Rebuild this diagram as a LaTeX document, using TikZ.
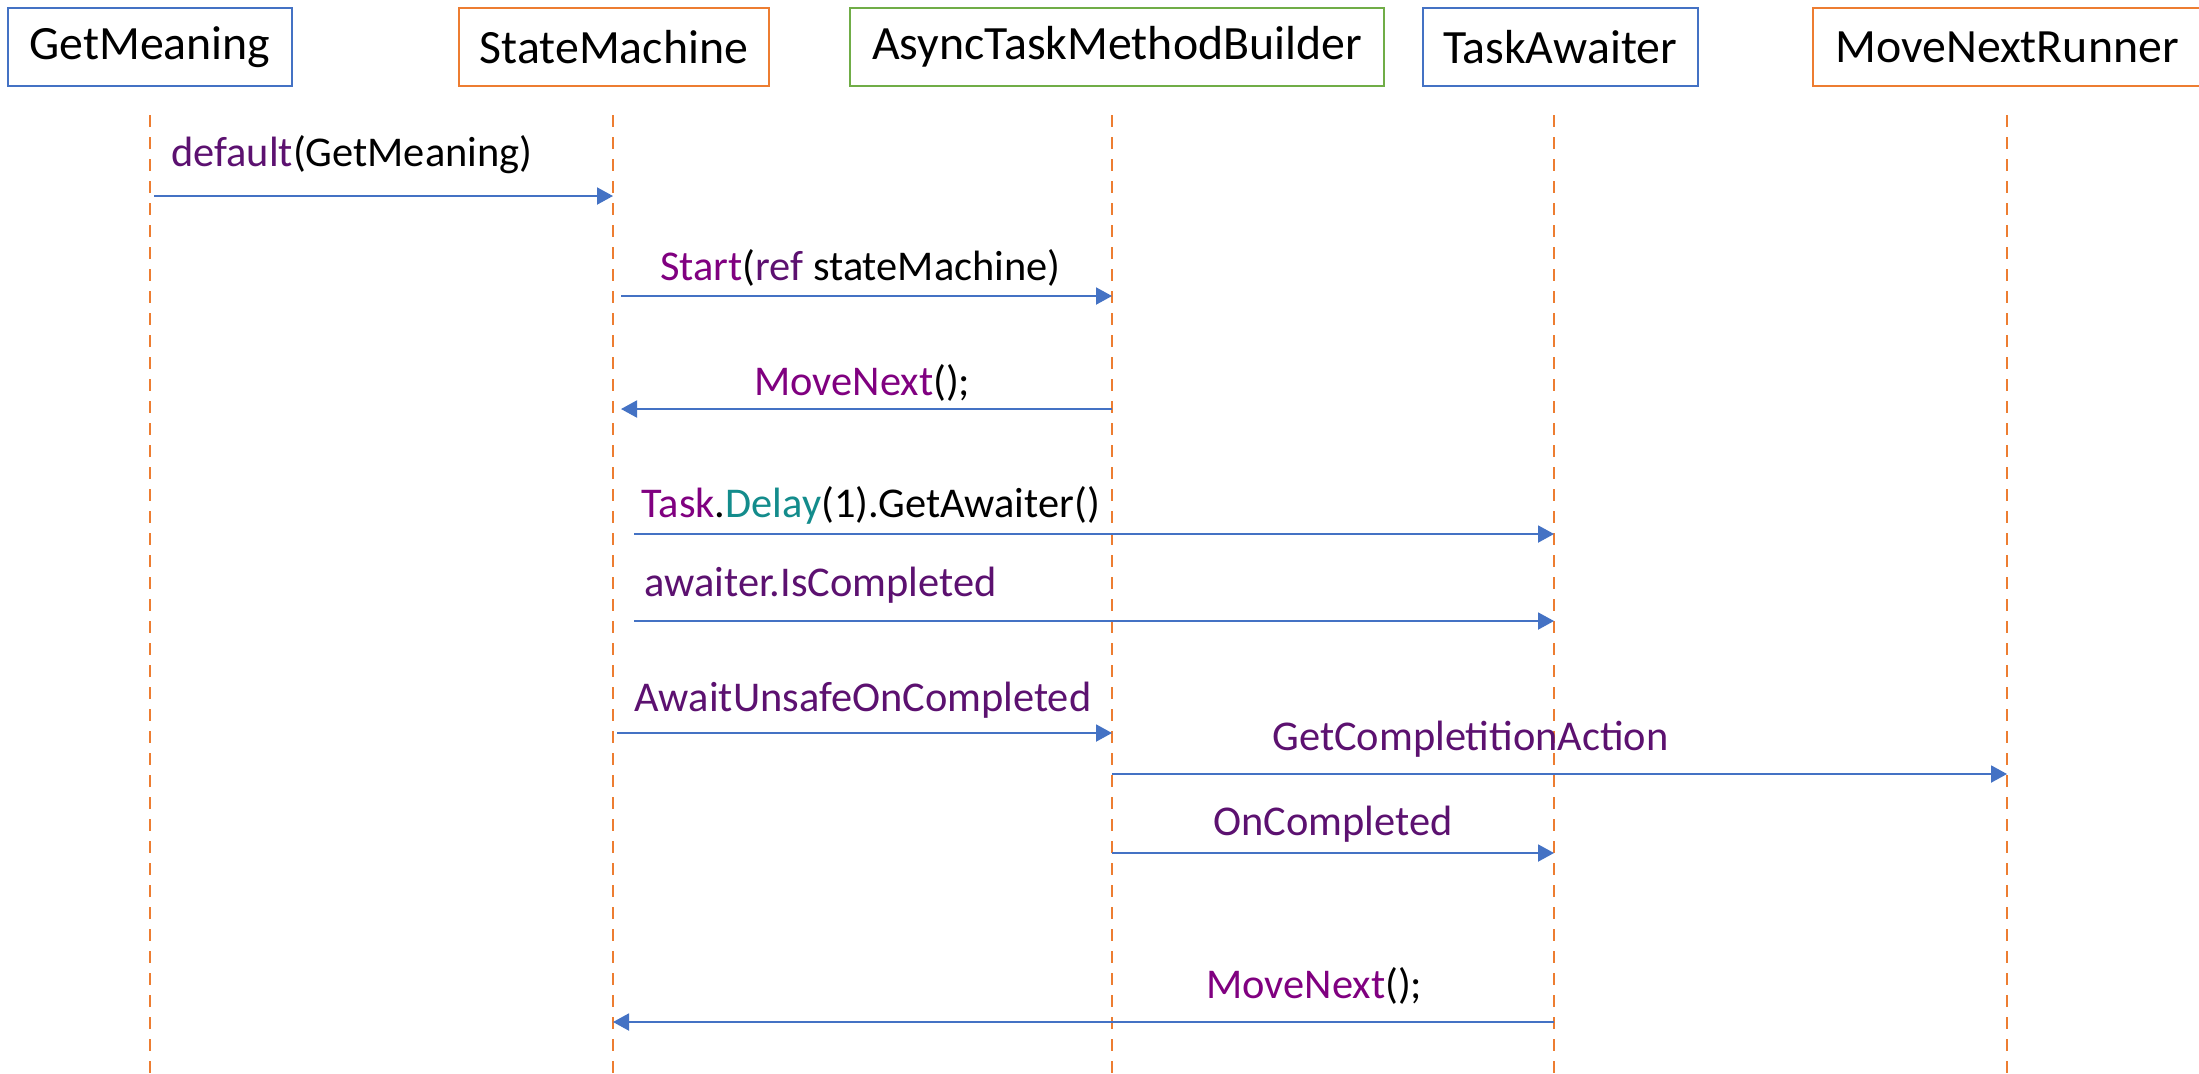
\documentclass[tikz,border=0pt]{standalone}
\usepackage{fontspec}
\setmainfont{Carlito}
\usetikzlibrary{arrows.meta,calc}
\definecolor{oblue}{HTML}{4472C4}
\definecolor{oorange}{HTML}{ED7D31}
\definecolor{ogreen}{HTML}{70AD47}
\definecolor{kw}{HTML}{800080}
\definecolor{kwd}{HTML}{5C1170}
\definecolor{tealc}{HTML}{138C8C}
\begin{document}
\begin{tikzpicture}[x=0.5pt,y=-0.5pt,
  hdr/.style={draw, line width=1pt, minimum height=39pt, inner sep=0pt,
              font=\fontsize{23.9pt}{28pt}\selectfont},
  life/.style={draw=oorange, line width=1pt, dash pattern=on 6pt off 5pt},
  msg/.style={draw=oblue, line width=1pt, -{Triangle[length=8pt,width=8.5pt]}},
  lbl/.style={anchor=west, inner sep=0pt, font=\fontsize{21.2pt}{25pt}\selectfont}]
\useasboundingbox (0,0) rectangle (2199,1073);
\fill[white] (0,0) rectangle (2199,1073);

% headers
\node[hdr, draw=oblue, minimum width=142pt] (hG) at (150,47) {GetMeaning};
\node[hdr, draw=oorange, minimum width=155pt] (hS) at (614,47) {StateMachine};
\node[hdr, draw=ogreen, minimum width=267pt] (hB) at (1117,47) {AsyncTaskMethodBuilder};
\node[hdr, draw=oblue, minimum width=137.5pt] (hT) at (1560,47) {TaskAwaiter};
\node[hdr, draw=oorange, minimum width=194pt] (hR) at (2007,47) {MoveNextRunner};

% lifelines
\coordinate (LG) at (150,115);
\coordinate (LS) at (613,115);
\coordinate (LB) at (1112,115);
\coordinate (LT) at (1554,115);
\coordinate (LR) at (2007,115);
\foreach \l in {LG,LS,LB,LT,LR} \draw[life] (\l) -- (\l |- 0,1073);

% messages
\draw[msg] ($(LG |- 0,196)+(4,0)$) -- (LS |- 0,196);
\node[lbl] (m1) at (171,155) {\textcolor{kwd}{default}(GetMeaning)};

\draw[msg] ($(LS |- 0,296)+(8,0)$) -- (LB |- 0,296);
\node[lbl] (m2) at (660,268) {\textcolor{kw}{Start}(\textcolor{kwd}{ref} stateMachine)};

\draw[msg] (LB |- 0,409) -- ($(LS |- 0,409)+(8,0)$);
\node[lbl] (m3) at (754,383) {\textcolor{kw}{MoveNext}();};

\draw[msg] ($(LS |- 0,534)+(21,0)$) -- (LT |- 0,534);
\node[lbl] (m4) at (641,505) {\textcolor{kw}{Task}.\textcolor{tealc}{Delay}(1).GetAwaiter()};

\draw[msg] ($(LS |- 0,621)+(21,0)$) -- (LT |- 0,621);
\node[lbl] (m5) at (644,585) {\textcolor{kwd}{awaiter.IsCompleted}};

\draw[msg] ($(LS |- 0,733)+(4,0)$) -- (LB |- 0,733);
\node[lbl] (m6) at (634,700) {\textcolor{kwd}{AwaitUnsafeOnCompleted}};

\draw[msg] (LB |- 0,774) -- (LR |- 0,774);
\node[lbl] (m7) at (1272,739) {\textcolor{kwd}{GetCompletitionAction}};

\draw[msg] (LB |- 0,853) -- (LT |- 0,853);
\node[lbl] (m8) at (1213,824) {\textcolor{kwd}{OnCompleted}};

\draw[msg] (LT |- 0,1022) -- (LS |- 0,1022);
\node[lbl] (m9) at (1206,986) {\textcolor{kw}{MoveNext}();};
\end{tikzpicture}
\end{document}
